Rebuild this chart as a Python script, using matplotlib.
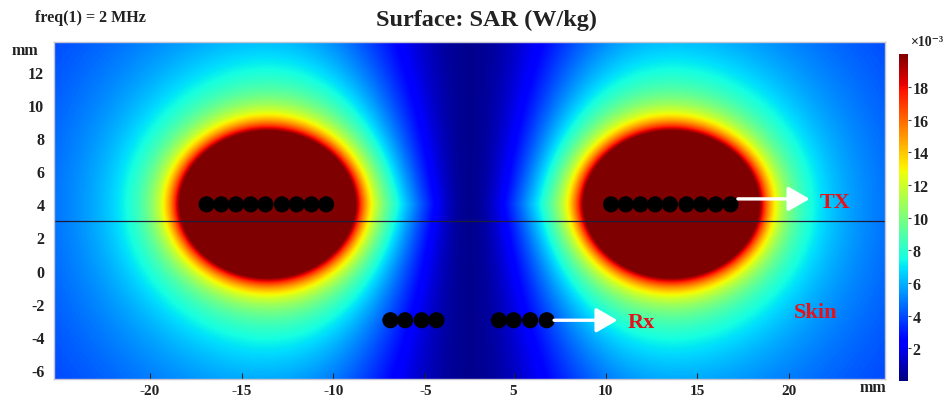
import numpy as np
import matplotlib
matplotlib.use("Agg")
import matplotlib.pyplot as plt

plt.rcParams["font.family"] = ["Liberation Serif", "DejaVu Serif"]
plt.rcParams["font.weight"] = "bold"

# axis ticks (mm); the middle strip of the model is cut out of the view
x_ticks = [-20, -15, -10, -5, 5, 10, 15, 20]
y_ticks = [-6, -4, -2, 0, 2, 4, 6, 8, 10, 12]
cbar_ticks = [2, 4, 6, 8, 10, 12, 14, 16, 18]
GAP = 2.6
x_lim = (-25.2, 25.2)
y_lim = (-6.55, 13.8)

# hot spots under the two TX coils
src_x = [-13.6, 13.6]
src_y = [4.0, 4.0]

# coil element centres (mm)
tx_left_x = [-16.9, -16.1, -15.3, -14.5, -13.7, -12.8, -12.0, -11.2, -10.4]
tx_right_x = [10.3, 11.1, 11.9, 12.7, 13.5, 14.4, 15.2, 16.0, 16.8]
tx_y = 4.0
rx_left_x = [-6.9, -6.1, -5.2, -4.4]
rx_right_x = [4.2, 5.0, 5.9, 6.8]
rx_y = -3.0
cut_line_y = 3.0


def to_u(x):
    x = np.asarray(x, dtype=float)
    return np.where(x < 0, x + GAP, x - GAP)


# SAR map, x10^-3 W/kg
u = np.linspace(to_u(x_lim[0]), to_u(x_lim[1]), 900)
yy = np.linspace(y_lim[0], y_lim[1], 340)
U, Y = np.meshgrid(u, yy)
X = np.where(U < 0, U - GAP, U + GAP)
sar = np.zeros_like(U)
for cx, cy in zip(src_x, src_y):
    rc = np.maximum(np.hypot((X - cx) / 4.65, (Y - cy) / 4.15), 0.05)
    rt = np.maximum(np.hypot((X - cx) / 4.9, (Y - cy) / 5.6), 0.05)
    sar += 20 * (0.6 * rc ** -5 + 0.4 * rt ** -1)
w = 3.0 + 0.25 * np.abs(Y - 4)
sar = sar * (1 - np.exp(-(U / w) ** 2)) + 0.3

fig = plt.figure(figsize=(9.46, 4.02), dpi=100)
ax = fig.add_axes([0.0571, 0.0547, 0.8784, 0.838])
im = ax.imshow(sar, extent=[u[0], u[-1], yy[0], yy[-1]], origin="lower",
               cmap="jet", vmin=0, vmax=20, aspect="auto", interpolation="bilinear")

ax.axhline(cut_line_y, color="#1c1c3a", lw=0.9)

for xs, yc in [(tx_left_x, tx_y), (tx_right_x, tx_y), (rx_left_x, rx_y), (rx_right_x, rx_y)]:
    ax.scatter(to_u(xs), [yc] * len(xs), s=135, color="black", edgecolors="none", zorder=3)

arrow = dict(arrowstyle="-|>,head_length=1.3,head_width=0.75", color="white", lw=2.4,
             shrinkA=0, shrinkB=0)
ax.annotate("", xy=(to_u(21.1), 4.33), xytext=(to_u(17.2), 4.33), arrowprops=arrow, zorder=4)
ax.annotate("", xy=(to_u(10.65), -3.0), xytext=(to_u(7.2), -3.0), arrowprops=arrow, zorder=4)

red = "#e5121a"
ax.text(to_u(22.5), 4.15, "TX", color=red, fontsize=16, ha="center", va="center")
ax.text(to_u(11.95), -3.1, "Rx", color=red, fontsize=16, ha="center", va="center")
ax.text(to_u(21.4), -2.5, "Skin", color=red, fontsize=16, ha="center", va="center")

ax.set_xlim(u[0], u[-1])
ax.set_ylim(yy[0], yy[-1])
ax.set_xticks(to_u(x_ticks))
ax.set_xticklabels([str(t) for t in x_ticks])
ax.set_yticks(y_ticks)
ax.set_yticklabels([str(t) for t in y_ticks])
ax.tick_params(axis="x", direction="in", length=4, width=0.8, color="#222222",
               labelsize=11, pad=3.5, labelcolor="#222222")
ax.tick_params(axis="y", length=0, labelsize=11.5, pad=7, labelcolor="#222222")
for sp in ax.spines.values():
    sp.set_color("#c4c4d4")
    sp.set_linewidth(1.0)

cax = fig.add_axes([0.9503, 0.0498, 0.0095, 0.813])
cb = fig.colorbar(im, cax=cax, ticks=cbar_ticks)
cb.outline.set_visible(False)
cax.tick_params(direction="out", length=2.5, width=0.8, color="#444444",
                labelsize=11.5, pad=1, labelcolor="#222222")

fig.text(0.98, 1 - 42 / 402, "×10⁻³", fontsize=10, ha="center", va="center", color="#222222")
fig.text(486 / 946, 1 - 20 / 402, "Surface: SAR (W/kg)", fontsize=17.5, ha="center",
         va="center", color="#222222")
fig.text(35 / 946, 1 - 18 / 402, "freq(1) = 2 MHz", fontsize=11.5, ha="left",
         va="center", color="#222222")
fig.text(25 / 946, 1 - 51 / 402, "mm", fontsize=11.5, ha="center", va="center", color="#222222")
fig.text(873 / 946, 1 - 388 / 402, "mm", fontsize=11.5, ha="center", va="center", color="#222222")

fig.savefig("out.png", dpi=100)
